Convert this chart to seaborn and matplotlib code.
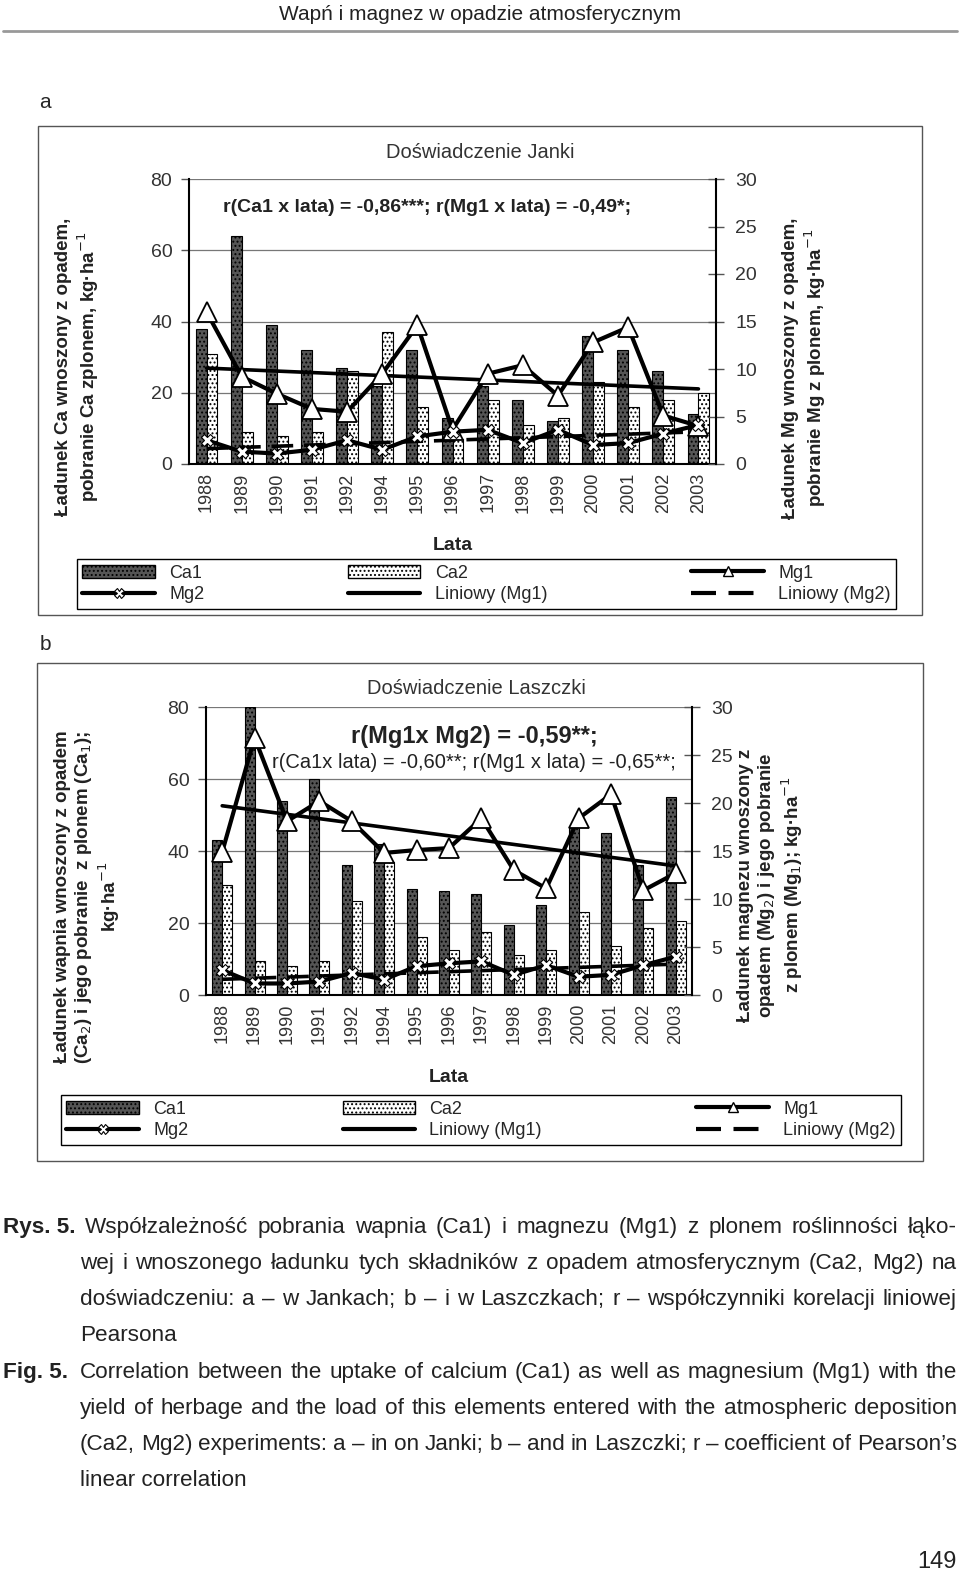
import numpy as np
import pandas as pd
import matplotlib
matplotlib.use('Agg')
import matplotlib.pyplot as plt
import seaborn as sns
from matplotlib.lines import Line2D
from matplotlib.patches import Patch, Rectangle

lata = ['1988', '1989', '1990', '1991', '1992', '1994', '1995', '1996',
        '1997', '1998', '1999', '2000', '2001', '2002', '2003']

# a - Doświadczenie Janki
ca1_janki = [38, 64, 39, 32, 27, 22, 32, 13, 22, 18, 12, 36, 32, 26, 14]
ca2_janki = [31, 9, 8, 9, 26, 37, 16, 7, 18, 11, 13, 23, 16, 18, 20]
mg1_janki = [16.0, 9.2, 7.4, 5.8, 5.5, 9.5, 14.6, 3.6, 9.5, 10.4, 7.2, 12.8, 14.4, 5.1, 4.0]
mg2_janki = [2.5, 1.3, 1.1, 1.5, 2.5, 1.5, 2.9, 3.4, 3.6, 2.2, 3.6, 2.0, 2.2, 3.2, 4.1]

# b - Doświadczenie Laszczki
ca1_laszczki = [43, 80, 54, 60, 36, 42, 29.5, 29, 28, 19.5, 25, 47, 45, 36, 55]
ca2_laszczki = [30.5, 9.5, 8, 9.5, 26, 37, 16, 12.5, 17.5, 11, 12.5, 23, 13.5, 18.5, 20.5]
mg1_laszczki = [14.9, 26.8, 18.1, 20.2, 18.1, 14.8, 15.1, 15.3, 18.4, 13.0, 11.1, 18.4, 20.9, 10.9, 12.7]
mg2_laszczki = [2.6, 1.2, 1.2, 1.4, 2.3, 1.6, 3.0, 3.3, 3.5, 2.1, 3.1, 1.9, 2.1, 3.1, 4.0]

sns.set_style('white')
ARIAL = ['Liberation Sans', 'DejaVu Sans']
plt.rcParams['font.family'] = ARIAL
plt.rcParams['hatch.linewidth'] = 0.9

W, H = 960, 1577
fig = plt.figure(figsize=(W / 100, H / 100), dpi=100)


def fx(x):
    return x / W


def fy(y):
    return 1 - y / H


def rect(x0, y0, x1, y1):
    return [fx(x0), fy(y1), fx(x1) - fx(x0), fy(y0) - fy(y1)]


def panel(box, ca1, ca2, mg1, mg2, tytul, ylab_l, ylab_r, pos_l, pos_r, lata_y, leg_box, ramka):
    ax = fig.add_axes(rect(*box))
    df = pd.DataFrame({'rok': lata * 2,
                       'seria': ['Ca1'] * len(lata) + ['Ca2'] * len(lata),
                       'wartosc': list(ca1) + list(ca2)})
    sns.barplot(data=df, x='rok', y='wartosc', hue='seria', order=lata,
                hue_order=['Ca1', 'Ca2'], palette=['#555555', 'white'],
                width=0.62, edgecolor='black', linewidth=0.8, errorbar=None,
                legend=False, ax=ax)
    for p in ax.patches:
        p.set_hatch('....')
    ax.set_ylim(0, 80)
    ax.set_yticks([0, 20, 40, 60, 80])
    ax.yaxis.grid(True, color='#777777', lw=0.9)
    ax.set_axisbelow(True)
    ax.set_xlabel('')
    ax.set_ylabel('')
    pos = np.arange(len(lata))
    ax.set_xticks(pos)
    ax.set_xticklabels(lata, rotation=90, fontsize=13, color='#333333')
    ax.set_xticks(np.arange(-0.5, len(lata), 1), minor=True)
    ax.tick_params(axis='x', which='major', length=0, pad=6)
    ax.tick_params(axis='x', which='minor', length=7, width=1, direction='out', color='black')
    ax.tick_params(axis='y', length=6, width=1, direction='out', labelsize=14,
                   labelcolor='#333333', color='#555555', pad=6)
    for s in ['top', 'right']:
        ax.spines[s].set_visible(False)
    ax.spines['left'].set_color('black')
    ax.spines['left'].set_linewidth(1.5)
    ax.spines['bottom'].set_color('black')
    ax.spines['bottom'].set_linewidth(1.5)

    ax2 = ax.twinx()
    sns.regplot(x=pos, y=mg1, ax=ax2, scatter=False, ci=None, truncate=True,
                color='black', line_kws={'lw': 2.6})
    sns.regplot(x=pos, y=mg2, ax=ax2, scatter=False, ci=None, truncate=True,
                color='black', line_kws={'lw': 2.6, 'dashes': (6, 3)})
    sns.lineplot(x=pos, y=mg1, ax=ax2, color='black', lw=3, marker='^',
                 markersize=14, markerfacecolor='white', markeredgecolor='black',
                 markeredgewidth=1.3)
    sns.lineplot(x=pos, y=mg2, ax=ax2, color='black', lw=3, marker='X',
                 markersize=9, markerfacecolor='white', markeredgecolor='black',
                 markeredgewidth=0.8)
    ax2.set_ylim(0, 30)
    ax2.set_yticks([0, 5, 10, 15, 20, 25, 30])
    ax2.set_ylabel('')
    ax2.tick_params(axis='y', direction='inout', length=12, width=1, labelsize=14,
                    labelcolor='#333333', color='#555555', pad=8)
    for s in ['top', 'left', 'bottom']:
        ax2.spines[s].set_visible(False)
    ax2.spines['right'].set_color('black')
    ax2.spines['right'].set_linewidth(1.5)
    ax.set_xlim(-0.5, len(lata) - 0.5)
    ax2.set_xlim(-0.5, len(lata) - 0.5)

    cx = (box[0] + box[2]) / 2
    fig.text(fx(tytul[1]), fy(tytul[2]), tytul[0], ha='center', va='center',
             fontsize=14.5, color='#333333')
    fig.text(fx(cx), fy(lata_y), 'Lata', ha='center', va='center', fontsize=14,
             fontweight='bold', color='#222222')
    fig.text(fx(pos_l[0]), fy(pos_l[1]), ylab_l, rotation=90, ha='center', va='center',
             fontsize=13.5, fontweight='bold', color='#222222',
             linespacing=1.15, multialignment='center')
    fig.text(fx(pos_r[0]), fy(pos_r[1]), ylab_r, rotation=90, ha='center', va='center',
             fontsize=13.5, fontweight='bold', color='#222222',
             linespacing=1.15, multialignment='center')

    uchwyty = [
        Patch(facecolor='#555555', edgecolor='black', hatch='....'),
        Line2D([], [], color='black', lw=3, marker='X', ms=7, mfc='white', mec='black', mew=0.8),
        Patch(facecolor='white', edgecolor='black', hatch='....'),
        Line2D([], [], color='black', lw=3),
        Line2D([], [], color='black', lw=3, marker='^', ms=7, mfc='white', mec='black'),
        Line2D([], [], color='black', lw=3, dashes=(6, 3)),
    ]
    etykiety = ['Ca1', 'Mg2', 'Ca2', 'Liniowy (Mg1)', 'Mg1', 'Liniowy (Mg2)']
    lx0, ly0, lx1, ly1 = leg_box
    fig.legend(uchwyty, etykiety, ncol=3, loc='center',
               bbox_to_anchor=(fx(lx0), fy(ly1), fx(lx1) - fx(lx0), fy(ly0) - fy(ly1)),
               mode='expand', frameon=True, fancybox=False, edgecolor='black',
               framealpha=1, fontsize=13, handlelength=4, labelspacing=0.25,
               borderpad=0.3)
    rx0, ry0, rx1, ry1 = ramka
    fig.add_artist(Rectangle((fx(rx0), fy(ry1)), fx(rx1) - fx(rx0), fy(ry0) - fy(ry1),
                             transform=fig.transFigure, fill=False,
                             edgecolor='#555555', lw=1))
    return ax


# naglowek strony
fig.text(0.5, fy(14), 'Wapń i magnez w opadzie atmosferycznym', ha='center',
         va='center', fontsize=15, color='#222222')
fig.add_artist(Line2D([fx(3), fx(957)], [fy(31), fy(31)], transform=fig.transFigure,
                      color='#999999', lw=2))

fig.text(fx(45), fy(102), 'a', ha='center', va='center', fontsize=15)
panel((189, 179, 716, 464), ca1_janki, ca2_janki, mg1_janki, mg2_janki,
      ('Doświadczenie Janki', 480, 153),
      'Ładunek Ca wnoszony z opadem,\npobranie Ca zplonem, kg·ha$^{-1}$',
      'Ładunek Mg wnoszony z opadem,\npobranie Mg z plonem, kg·ha$^{-1}$',
      (78, 367), (805, 368), 545, (68, 560, 905, 608), (38, 126, 922, 615))
fig.text(fx(427), fy(207), 'r(Ca1 x lata) = -0,86***; r(Mg1 x lata) = -0,49*;',
         ha='center', va='center', fontsize=14, fontweight='bold', color='#222222')

fig.text(fx(45), fy(644), 'b', ha='center', va='center', fontsize=15)
panel((206, 707, 692, 995), ca1_laszczki, ca2_laszczki, mg1_laszczki, mg2_laszczki,
      ('Doświadczenie Laszczki', 476, 689),
      'Ładunek wapnia wnoszony z opadem\n(Ca$_2$) i jego pobranie  z plonem (Ca$_1$);\nkg·ha$^{-1}$',
      'Ładunek magnezu wnoszony z\nopadem (Mg$_2$) i jego pobranie\nz plonem (Mg$_1$); kg·ha$^{-1}$',
      (88, 897), (771, 885), 1078, (52, 1091, 910, 1149), (37, 663, 923, 1161))
fig.text(fx(474), fy(737), 'r(Mg1x Mg2) = -0,59**;', ha='center', va='center',
         fontsize=17, fontweight='bold', color='#222222')
fig.text(fx(474), fy(762), 'r(Ca1x lata) = -0,60**; r(Mg1 x lata) = -0,65**;',
         ha='center', va='center', fontsize=14.5, color='#222222')

# podpis (wyjustowany), y = linia bazowa
podpis = [
    (85, 1233, 'Współzależność pobrania wapnia (Ca1) i magnezu (Mg1) z plonem roślinności łąko-', True),
    (80, 1269, 'wej i wnoszonego ładunku tych składników z opadem atmosferycznym (Ca2, Mg2) na', True),
    (80, 1305, 'doświadczeniu: a – w Jankach; b – i w Laszczkach; r – współczynniki korelacji liniowej', True),
    (80, 1341, 'Pearsona', False),
    (80, 1378, 'Correlation between the uptake of calcium (Ca1) as well as magnesium (Mg1) with the', True),
    (80, 1414, 'yield of herbage and the load of this elements entered with the atmospheric deposition', True),
    (80, 1450, '(Ca2, Mg2) experiments: a – in on Janki; b – and in Laszczki; r – coefficient of Pearson’s', True),
    (80, 1486, 'linear correlation', False),
]
ROZMIAR = 16.2
PRAWY = 957
fig.text(fx(3), fy(1233), 'Rys. 5.', ha='left', va='baseline', fontsize=ROZMIAR,
         fontweight='bold', color='#222222')
fig.text(fx(3), fy(1378), 'Fig. 5.', ha='left', va='baseline', fontsize=ROZMIAR,
         fontweight='bold', color='#222222')
renderer = fig.canvas.get_renderer()
for x, y, t, justuj in podpis:
    if not justuj:
        fig.text(fx(x), fy(y), t, ha='left', va='baseline', fontsize=ROZMIAR, color='#222222')
        continue
    slowa = t.split()
    teksty = [fig.text(0, fy(y), s, ha='left', va='baseline', fontsize=ROZMIAR, color='#222222')
              for s in slowa]
    szer = [tt.get_window_extent(renderer).width for tt in teksty]
    odstep = (PRAWY - x - sum(szer)) / (len(slowa) - 1)
    xx = x
    for tt, w in zip(teksty, szer):
        tt.set_x(fx(xx))
        xx += w + odstep

fig.text(fx(957), fy(1562), '149', ha='right', va='center', fontsize=17, color='#222222')

fig.savefig('out.png', dpi=100)
